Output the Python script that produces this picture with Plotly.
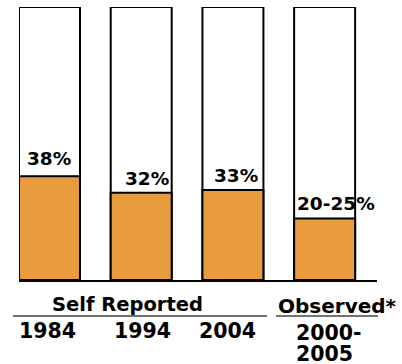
import plotly.graph_objects as go

# ---- data ----
categories = ["1984", "1994", "2004", "2000-2005"]
values = [38, 32, 33, 22.5]
value_labels = ["38%", "32%", "33%", "20-25%"]
full_values = [100, 100, 100, 100]
year_lines = [["1984"], ["1994"], ["2004"], ["2000-", "2005"]]
group_labels = ["Self Reported", "Observed*"]

# ---- style ----
ORANGE = "#E89C3D"
FONT = "DejaVu Sans"
W, H = 402, 364
L, R, T, B = 19, 25, 7, 84
bar_width = 0.665
label_dx = [0, 6, 3, 11]     # pixel nudges for value labels
label_gap = [8, 5, 5, 6]
year_dx = [-2, 1, -5, -29.5]
year_dy = [-50, -50, -50, -52]
line_step = 21
year_anchor = ["center", "center", "center", "left"]

x = list(range(len(categories)))

fig = go.Figure()
fig.add_trace(go.Bar(x=x, y=full_values, width=bar_width,
                     marker=dict(color="white", line=dict(color="black", width=2)),
                     cliponaxis=False, hoverinfo="skip"))
fig.add_trace(go.Bar(x=x, y=values, width=bar_width,
                     marker=dict(color=ORANGE, line=dict(color="black", width=2)),
                     cliponaxis=False, hoverinfo="skip"))

ann = []
for i, (v, lab) in enumerate(zip(values, value_labels)):
    ann.append(dict(x=i, y=v, xref="x", yref="y", text=f"<b>{lab}</b>",
                    showarrow=False, yanchor="bottom", xanchor="center",
                    xshift=label_dx[i], yshift=label_gap[i] - 3,
                    font=dict(family=FONT, size=18.5, color="black")))
for i, lines in enumerate(year_lines):
    for j, lab in enumerate(lines):
        ann.append(dict(x=i, y=0, xref="x", yref="y", text=f"<b>{lab}</b>",
                        showarrow=False, yanchor="middle", xanchor=year_anchor[i],
                        xshift=year_dx[i], yshift=year_dy[i] - j * line_step,
                        height=19, borderpad=0,
                        font=dict(family=FONT, size=20.5, color="black")))

plot_w = W - L - R
plot_h = H - T - B
def px(xp):
    return (xp - L) / plot_w
def py(yp):
    return (H - B - yp) / plot_h

ann.append(dict(x=px(127.5), y=py(304.5), xref="paper", yref="paper",
                text=f"<b>{group_labels[0]}</b>", showarrow=False,
                xanchor="center", yanchor="middle",
                font=dict(family=FONT, size=19.5, color="black")))
ann.append(dict(x=px(276), y=py(305.5), xref="paper", yref="paper",
                text=f"<b>{group_labels[1]}</b>", showarrow=False,
                xanchor="left", yanchor="middle",
                font=dict(family=FONT, size=20, color="black")))

shapes = [
    dict(type="line", xref="paper", yref="paper", x0=px(13), x1=px(267),
         y0=py(316), y1=py(316), line=dict(color="#444444", width=1.5)),
    dict(type="line", xref="paper", yref="paper", x0=px(276), x1=px(378),
         y0=py(316), y1=py(316), line=dict(color="#444444", width=1.5)),
]

fig.update_layout(
    width=W, height=H, barmode="overlay", showlegend=False,
    paper_bgcolor="white", plot_bgcolor="white",
    margin=dict(l=L, r=R, t=T, b=B),
    annotations=ann, shapes=shapes,
    xaxis=dict(range=[-bar_width / 2, 3.571], showline=True, linecolor="black",
               linewidth=2, showgrid=False, zeroline=False, showticklabels=False,
               ticks=""),
    yaxis=dict(range=[0, 100], visible=False, showgrid=False, zeroline=False),
)

fig.write_html("out.html", config={"displayModeBar": False})
